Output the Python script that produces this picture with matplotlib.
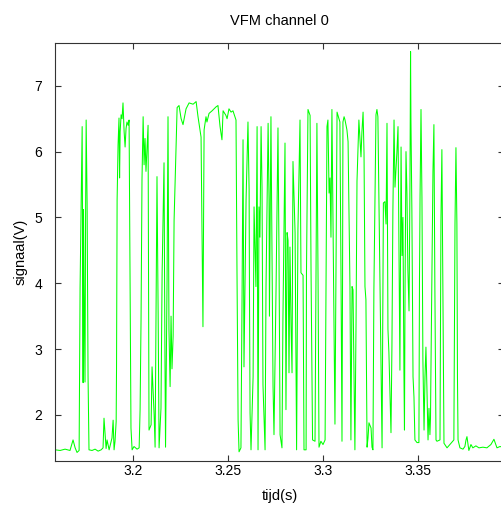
import matplotlib
matplotlib.use("Agg")
import matplotlib.pyplot as plt

tijd = [3.1589, 3.1616, 3.1642, 3.1668, 3.1684, 3.1695, 3.1705, 3.1716, 3.1721, 3.1732,
        3.1737, 3.1739, 3.1742, 3.1747, 3.1750, 3.1753, 3.1758, 3.1763, 3.1768, 3.1784,
        3.1800, 3.1816, 3.1832, 3.1842, 3.1847, 3.1858, 3.1863, 3.1874, 3.1889, 3.1895,
        3.1900, 3.1905, 3.1911, 3.1913, 3.1916, 3.1921, 3.1926, 3.1929, 3.1932, 3.1937,
        3.1942, 3.1947, 3.1953, 3.1958, 3.1963, 3.1968, 3.1974, 3.1979, 3.1984, 3.1989,
        3.1995, 3.2005, 3.2021, 3.2032, 3.2037, 3.2042, 3.2047, 3.2053, 3.2058, 3.2063,
        3.2068, 3.2074, 3.2079, 3.2084, 3.2095, 3.2100, 3.2111, 3.2116, 3.2126, 3.2132,
        3.2137, 3.2147, 3.2153, 3.2163, 3.2168, 3.2171, 3.2179, 3.2184, 3.2189, 3.2195,
        3.2200, 3.2205, 3.2211, 3.2216, 3.2226, 3.2232, 3.2242, 3.2253, 3.2263, 3.2279,
        3.2295, 3.2316, 3.2332, 3.2342, 3.2358, 3.2363, 3.2368, 3.2371, 3.2374, 3.2384,
        3.2389, 3.2400, 3.2416, 3.2437, 3.2447, 3.2458, 3.2468, 3.2474, 3.2489, 3.2495,
        3.2505, 3.2516, 3.2526, 3.2542, 3.2547, 3.2553, 3.2558, 3.2568, 3.2574, 3.2579,
        3.2584, 3.2589, 3.2595, 3.2605, 3.2611, 3.2613, 3.2616, 3.2621, 3.2632, 3.2637,
        3.2647, 3.2653, 3.2658, 3.2663, 3.2668, 3.2674, 3.2679, 3.2684, 3.2695, 3.2700,
        3.2711, 3.2716, 3.2718, 3.2726, 3.2732, 3.2737, 3.2742, 3.2753, 3.2763, 3.2768,
        3.2774, 3.2784, 3.2789, 3.2795, 3.2800, 3.2805, 3.2811, 3.2816, 3.2821, 3.2826,
        3.2832, 3.2837, 3.2842, 3.2853, 3.2858, 3.2861, 3.2868, 3.2874, 3.2879, 3.2884,
        3.2895, 3.2900, 3.2911, 3.2913, 3.2921, 3.2932, 3.2937, 3.2942, 3.2945, 3.2958,
        3.2963, 3.2968, 3.2974, 3.2979, 3.2989, 3.3000, 3.3011, 3.3016, 3.3021, 3.3026,
        3.3032, 3.3037, 3.3042, 3.3047, 3.3058, 3.3063, 3.3068, 3.3074, 3.3079, 3.3089,
        3.3095, 3.3100, 3.3103, 3.3105, 3.3111, 3.3116, 3.3126, 3.3132, 3.3142, 3.3147,
        3.3153, 3.3158, 3.3168, 3.3174, 3.3179, 3.3184, 3.3189, 3.3200, 3.3205, 3.3211,
        3.3216, 3.3221, 3.3226, 3.3232, 3.3237, 3.3242, 3.3253, 3.3258, 3.3263, 3.3268,
        3.3279, 3.3284, 3.3289, 3.3300, 3.3311, 3.3316, 3.3318, 3.3326, 3.3332, 3.3337,
        3.3342, 3.3347, 3.3358, 3.3363, 3.3368, 3.3374, 3.3379, 3.3389, 3.3395, 3.3400,
        3.3405, 3.3411, 3.3416, 3.3421, 3.3426, 3.3429, 3.3432, 3.3437, 3.3442, 3.3447,
        3.3453, 3.3458, 3.3461, 3.3463, 3.3468, 3.3474, 3.3479, 3.3484, 3.3495, 3.3505,
        3.3508, 3.3511, 3.3516, 3.3521, 3.3526, 3.3532, 3.3537, 3.3542, 3.3547, 3.3553,
        3.3558, 3.3563, 3.3566, 3.3568, 3.3574, 3.3579, 3.3584, 3.3589, 3.3595, 3.3600,
        3.3616, 3.3621, 3.3626, 3.3632, 3.3637, 3.3653, 3.3668, 3.3689, 3.3695, 3.3700,
        3.3705, 3.3708, 3.3711, 3.3721, 3.3737, 3.3747, 3.3753, 3.3758, 3.3768, 3.3779,
        3.3789, 3.3805, 3.3821, 3.3842, 3.3863, 3.3884, 3.3900, 3.3916, 3.3932, 3.3958]

signaal = [1.47, 1.46, 1.48, 1.46, 1.62, 1.50, 1.43, 1.46, 3.93, 6.38,
           2.49, 5.12, 3.98, 2.50, 5.00, 6.48, 5.22, 2.58, 1.47, 1.46,
           1.48, 1.45, 1.47, 1.50, 1.95, 1.49, 1.62, 1.47, 1.65, 1.92,
           1.47, 1.60, 1.90, 2.73, 5.27, 6.10, 6.51, 5.60, 6.30, 6.56,
           6.50, 6.74, 6.30, 6.07, 6.35, 6.45, 6.40, 6.48, 4.20, 1.80,
           1.47, 1.52, 1.48, 1.50, 2.08, 3.44, 5.57, 6.53, 5.80, 6.20,
           5.70, 6.10, 6.40, 1.77, 1.85, 2.73, 2.00, 1.51, 5.62, 3.55,
           1.50, 2.10, 4.16, 5.83, 2.84, 1.51, 4.05, 6.53, 3.30, 2.43,
           3.50, 2.70, 3.20, 4.96, 6.03, 6.67, 6.70, 6.50, 6.41, 6.65,
           6.74, 6.72, 6.76, 6.53, 6.22, 4.77, 3.34, 4.80, 6.33, 6.53,
           6.45, 6.58, 6.62, 6.68, 6.70, 6.38, 6.18, 6.62, 6.55, 6.50,
           6.65, 6.60, 6.62, 6.48, 4.25, 1.92, 1.44, 1.50, 3.85, 6.18,
           2.73, 3.85, 5.27, 6.45, 5.42, 3.80, 2.03, 1.47, 2.58, 5.16,
           3.95, 6.38, 1.47, 5.16, 4.70, 6.38, 5.46, 2.46, 1.47, 3.95,
           6.43, 5.27, 3.50, 6.53, 4.40, 2.43, 1.70, 3.95, 6.36, 4.60,
           1.70, 1.50, 3.44, 4.93, 6.13, 2.08, 4.77, 4.65, 2.64, 4.55,
           3.34, 2.64, 5.85, 4.77, 2.58, 1.47, 4.81, 5.75, 6.48, 4.16,
           4.12, 1.47, 1.47, 4.16, 6.64, 6.55, 4.20, 2.64, 1.62, 1.60,
           4.05, 6.43, 4.05, 1.51, 1.60, 1.55, 1.62, 4.05, 6.38, 6.48,
           5.37, 5.60, 4.70, 6.64, 3.26, 1.86, 4.05, 6.60, 6.55, 6.45,
           4.05, 1.60, 4.05, 6.45, 6.53, 6.48, 6.33, 6.15, 3.95, 1.62,
           3.95, 3.90, 1.47, 3.40, 5.55, 6.00, 6.48, 5.92, 6.30, 6.60,
           5.98, 3.95, 3.75, 1.51, 1.65, 1.88, 1.80, 1.51, 1.47, 3.90,
           6.56, 6.64, 6.53, 4.05, 1.50, 4.05, 5.22, 5.24, 4.90, 6.43,
           3.30, 2.95, 1.73, 3.05, 5.10, 6.48, 5.46, 5.98, 6.38, 4.55,
           2.68, 6.07, 4.42, 5.00, 2.68, 1.77, 3.95, 6.00, 5.35, 4.20,
           3.58, 5.57, 7.52, 6.48, 5.10, 2.58, 2.27, 1.62, 1.58, 1.58,
           4.05, 5.31, 6.64, 5.30, 2.84, 1.77, 2.58, 3.03, 2.43, 1.62,
           2.10, 1.70, 1.95, 2.58, 4.25, 5.70, 6.41, 3.95, 1.62, 1.60,
           1.62, 4.96, 6.03, 3.70, 1.57, 1.50, 1.55, 1.62, 4.90, 6.06,
           4.90, 2.58, 1.62, 1.50, 1.48, 1.52, 1.62, 1.67, 1.46, 1.55,
           1.50, 1.53, 1.50, 1.51, 1.50, 1.55, 1.63, 1.50, 1.52, 1.50]

x_ticks = [3.2, 3.25, 3.3, 3.35]
x_tick_labels = ["3.2", "3.25", "3.3", "3.35"]
y_ticks = [2, 3, 4, 5, 6, 7]
y_tick_labels = ["2", "3", "4", "5", "6", "7"]

plt.rcParams['font.family'] = ['Liberation Sans', 'DejaVu Sans']

fig = plt.figure(figsize=(5.02, 5.11), dpi=100)
fig.patch.set_facecolor('white')
ax = fig.add_axes([55 / 502, 50 / 511, 449 / 502, 418 / 511])
ax.plot(tijd, signaal, color='#00ff00', lw=0.75)

ax.set_xlim(3.1589, 3.3953)
ax.set_ylim(1.30, 7.65)
ax.set_xticks(x_ticks)
ax.set_xticklabels(x_tick_labels)
ax.set_yticks(y_ticks)
ax.set_yticklabels(y_tick_labels)
ax.tick_params(direction='in', length=4.5, width=0.8, colors='#333333',
               labelcolor='black', labelsize=10,
               top=True, right=True)
ax.tick_params(axis='x', pad=2)
ax.tick_params(axis='y', pad=9)
for s in ax.spines.values():
    s.set_color('#333333')
    s.set_linewidth(0.8)

ax.set_title("VFM channel 0", fontsize=10.5, pad=13)
ax.set_xlabel("tijd(s)", fontsize=10.5, labelpad=8)
ax.set_ylabel("signaal(V)", fontsize=10.5, labelpad=5)

fig.savefig("out.png", dpi=100, facecolor='white')
